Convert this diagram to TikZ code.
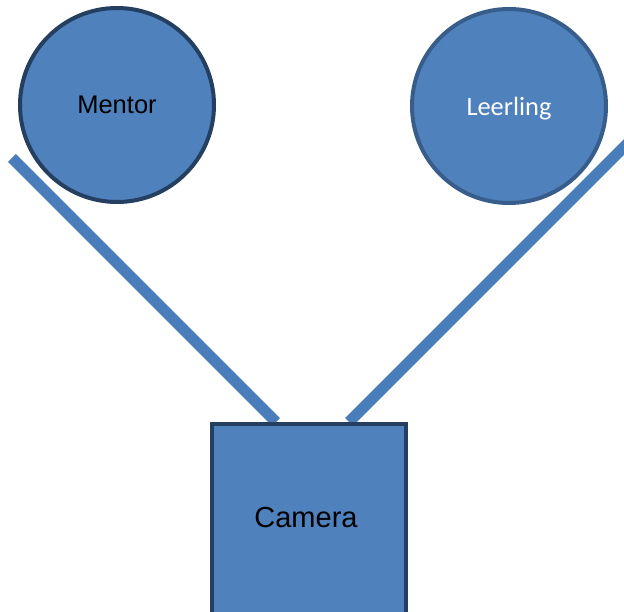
\documentclass[tikz,border=0pt]{standalone}
\usepackage{fontspec}
\setmainfont{Liberation Sans}
\newfontfamily\calib{Carlito}
\definecolor{boxfill}{HTML}{4F81BD}
\definecolor{darkrim}{HTML}{243F60}
\definecolor{midrim}{HTML}{385D8A}
\definecolor{linkblue}{HTML}{4A7EBB}
\tikzset{
  person/.style={circle, fill=boxfill, line width=4pt, minimum size=194pt, inner sep=0pt},
  cambox/.style={rectangle, fill=boxfill, draw=darkrim, line width=4pt, inner sep=0pt},
  link/.style={draw=linkblue, line width=11pt, line cap=butt}
}
\begin{document}
\begin{tikzpicture}[x=1pt,y=-1pt]
\useasboundingbox (0,0) rectangle (624,612);
\begin{scope}
\clip (0,0) rectangle (624,612);
% sight lines from the camera
\coordinate (lfree) at (12,158);
\coordinate (rfree) at (640,131);
\coordinate (lfoot) at (276,422);
\coordinate (rfoot) at (349,422);
\draw[link] (lfoot) -- (lfree);
\draw[link] (rfoot) -- (rfree);
% camera body, running off the bottom
\node[cambox, minimum width=194pt, minimum height=220pt, anchor=north west] (cam) at (210,422) {};
\node[font=\fontsize{29}{34}\selectfont] (camlabel) at (306,518) {Camera};
\end{scope}
% the two people
\node[person, draw=darkrim] (mentor) at (117,105) {};
\node[font=\fontsize{25.5}{30}\selectfont] at (mentor) {Mentor};
\node[person, draw=midrim] (leerling) at (509,106) {};
\node[font=\calib\fontsize{26.4}{31}\selectfont, text=white] at ([yshift=-3]leerling.center) {Leerling};
\end{tikzpicture}
\end{document}
